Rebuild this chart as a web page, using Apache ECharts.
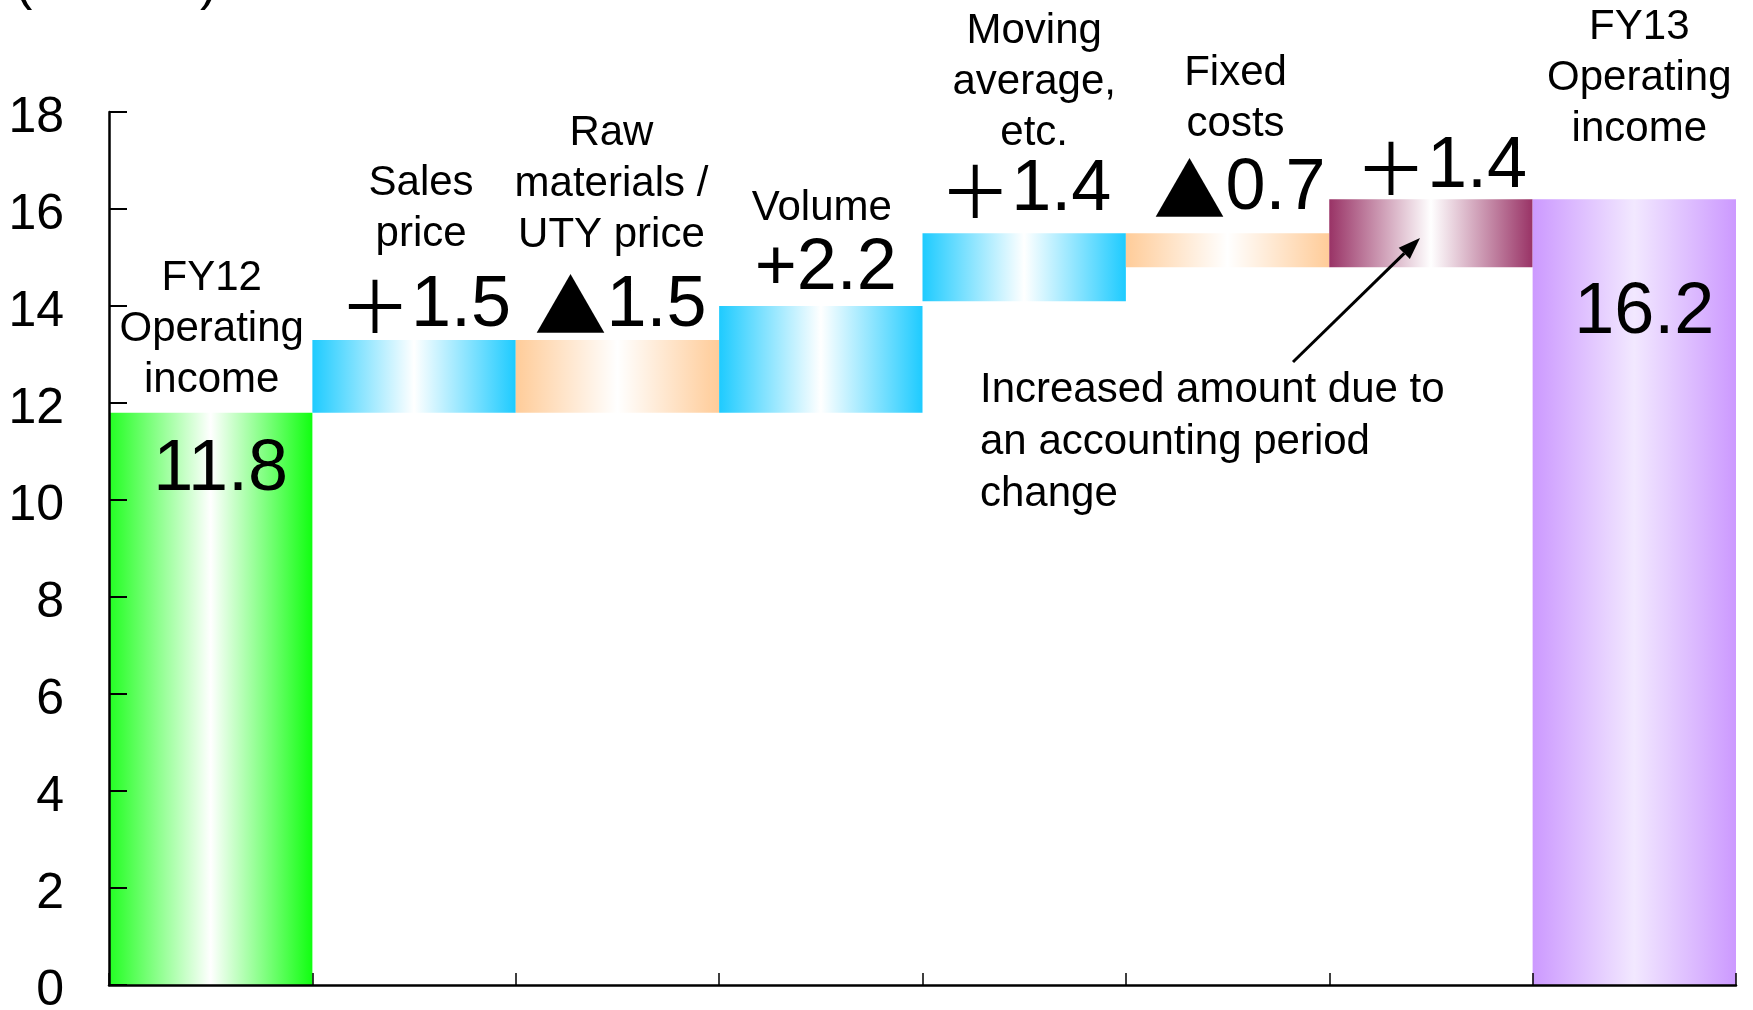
<!DOCTYPE html>
<html>
<head>
<meta charset="utf-8">
<style>
  html, body { margin: 0; padding: 0; background: #ffffff; }
  #chart { width: 1753px; height: 1010px; }
</style>
<script src="https://cdn.jsdelivr.net/npm/echarts@6/dist/echarts.min.js"></script>
</head>
<body>
<div id="chart"></div>
<script>
// Operating income bridge, FY12 -> FY13 (¥ billion)
const categories = ['FY12 operating income', 'Sales price', 'Raw materials / UTY price', 'Volume',
  'Moving average, etc.', 'Fixed costs', 'Accounting period change', 'FY13 operating income'];
const nameLabels = ['FY12\nOperating\nincome', 'Sales\nprice', 'Raw\nmaterials /\nUTY price', 'Volume',
  'Moving\naverage,\netc.', 'Fixed\ncosts', '', 'FY13\nOperating\nincome'];
const changeLabels = ['', '＋1.5', '▲1.5', '+2.2', '＋1.4', '▲0.7', '＋1.4', ''];
// lower edge of each floating bar, and its height
const barLow = [0, 11.8, 11.8, 11.8, 14.1, 14.8, 14.8, 0];
const barSize = [11.8, 1.5, 1.5, 2.2, 1.4, 0.7, 1.4, 16.2];
const yTicks = [0, 2, 4, 6, 8, 10, 12, 14, 16, 18];

// bar fills: edge colour -> pale centre -> edge colour
const fills = [
  ['#22ff22', '#ffffff', '#11ff11'],
  ['#1ecbff', '#ffffff', '#1ecbff'],
  ['#ffcc99', '#ffffff', '#ffcc99'],
  ['#1ecbff', '#ffffff', '#1ecbff'],
  ['#1ecbff', '#ffffff', '#1ecbff'],
  ['#ffcc99', '#ffffff', '#ffcc99'],
  ['#993366', '#ffffff', '#993366'],
  ['#cc99ff', '#f2e8ff', '#cc99ff']
];
// label placement tweaks per bar: [name distance, name dx, change/value distance, change/value dx]
const labelLayout = [
  [7, 1, 21, 10],
  [80, 7, -2, 11],
  [79, -6, -2, 3],
  [72, 1, 1, 5],
  [74, 10, 7, 1],
  [83, 8, 8, 12],
  [0, 0, -4, 10],
  [44, 5, 78, 10]
];

const FONT = "'Liberation Sans', Arial, 'Noto Sans CJK JP', sans-serif";
const CJK = "'Noto Sans CJK JP', 'Liberation Sans', sans-serif";

function grad(c) {
  return {
    type: 'linear', x: 0, y: 0, x2: 1, y2: 0,
    colorStops: [
      { offset: 0, color: c[0] },
      { offset: 0.5, color: c[1] },
      { offset: 1, color: c[2] }
    ]
  };
}

// the triangle and full-width plus come from the CJK face, digits from the sans face
function changeText(s) {
  const head = s.charAt(0);
  const rest = s.slice(1);
  if (head === '▲' || head === '＋') return '{sym|' + head + '}{num|' + rest + '}';
  return '{num|' + s + '}';
}

const totalIdx = [0, categories.length - 1];

const barData = barSize.map((v, i) => {
  const isTotal = totalIdx.indexOf(i) >= 0;
  return {
    value: v,
    itemStyle: { color: grad(fills[i]) },
    label: {
      show: true,
      position: isTotal ? 'insideTop' : 'top',
      distance: labelLayout[i][2],
      offset: [labelLayout[i][3], 0],
      formatter: isTotal ? '{num|' + v + '}' : changeText(changeLabels[i]),
      rich: {
        num: { fontSize: 72, lineHeight: 72, color: '#000', fontFamily: FONT },
        sym: { fontSize: 72, lineHeight: 72, color: '#000', fontFamily: CJK }
      }
    }
  };
});

const capData = categories.map((c, i) => ({
  value: 0,
  label: {
    show: nameLabels[i] !== '',
    position: 'top',
    distance: labelLayout[i][0],
    offset: [labelLayout[i][1], 0],
    formatter: nameLabels[i],
    fontSize: 42,
    lineHeight: 51,
    align: 'center',
    color: '#000',
    fontFamily: FONT
  }
}));

const chart = echarts.init(document.getElementById('chart'), null, { renderer: 'canvas' });

// arrow for the note about the accounting period change
const arrowTail = [1293, 362];
const arrowTip = [1420, 238];
const dx = arrowTip[0] - arrowTail[0], dy = arrowTip[1] - arrowTail[1];
const len = Math.sqrt(dx * dx + dy * dy);
const ux = dx / len, uy = dy / len;
const headLen = 22, headHalf = 8;
const headBase = [arrowTip[0] - ux * headLen, arrowTip[1] - uy * headLen];
const headPts = [
  arrowTip,
  [headBase[0] - uy * headHalf, headBase[1] + ux * headHalf],
  [headBase[0] + uy * headHalf, headBase[1] - ux * headHalf]
];

chart.setOption({
  animation: false,
  backgroundColor: '#ffffff',
  grid: { left: 109, right: 17, top: 112, bottom: 25, containLabel: false, outerBoundsMode: 'none' },
  xAxis: {
    type: 'category',
    data: categories,
    boundaryGap: true,
    axisLine: { show: true, lineStyle: { color: '#000', width: 2.5 } },
    axisTick: { show: true, inside: true, length: 12, alignWithLabel: false, lineStyle: { color: '#000', width: 1.5 } },
    axisLabel: { show: false },
    splitLine: { show: false },
    z: 5
  },
  yAxis: {
    type: 'value',
    min: yTicks[0],
    max: yTicks[yTicks.length - 1],
    interval: yTicks[1] - yTicks[0],
    axisLine: { show: true, lineStyle: { color: '#000', width: 2.5 } },
    axisTick: { show: true, inside: true, length: 18, lineStyle: { color: '#000', width: 2 } },
    axisLabel: {
      show: true,
      margin: 45,
      formatter: '{t|{value}}',
      rich: {
        t: { fontSize: 50, lineHeight: 50, padding: [13, 0, 0, 0], color: '#000', fontFamily: FONT }
      }
    },
    splitLine: { show: false },
    z: 5
  },
  series: [
    {
      name: 'base',
      type: 'bar',
      stack: 'bridge',
      barCategoryGap: 0,
      barGap: 0,
      itemStyle: { color: 'rgba(0,0,0,0)' },
      data: barLow,
      silent: true
    },
    {
      name: 'amount',
      type: 'bar',
      stack: 'bridge',
      barCategoryGap: 0,
      barGap: 0,
      data: barData
    },
    {
      name: 'names',
      type: 'bar',
      stack: 'bridge',
      barCategoryGap: 0,
      barGap: 0,
      itemStyle: { color: 'rgba(0,0,0,0)' },
      data: capData,
      silent: true
    }
  ],
  graphic: [
    {
      type: 'text',
      left: 15,
      top: -41,
      z: 100,
      style: { text: '(¥Billion)', font: '52px ' + FONT, fill: '#000' }
    },
    {
      type: 'text',
      x: 980,
      y: 364,
      z: 100,
      style: {
        text: 'Increased amount due to\nan accounting period\nchange',
        font: '42px ' + FONT,
        lineHeight: 52,
        fill: '#000',
        verticalAlign: 'top',
        align: 'left'
      }
    },
    {
      type: 'line',
      z: 100,
      shape: { x1: arrowTail[0], y1: arrowTail[1], x2: headBase[0], y2: headBase[1] },
      style: { stroke: '#000', lineWidth: 3 }
    },
    {
      type: 'polygon',
      z: 100,
      shape: { points: headPts },
      style: { fill: '#000' }
    }
  ]
});
</script>
</body>
</html>
